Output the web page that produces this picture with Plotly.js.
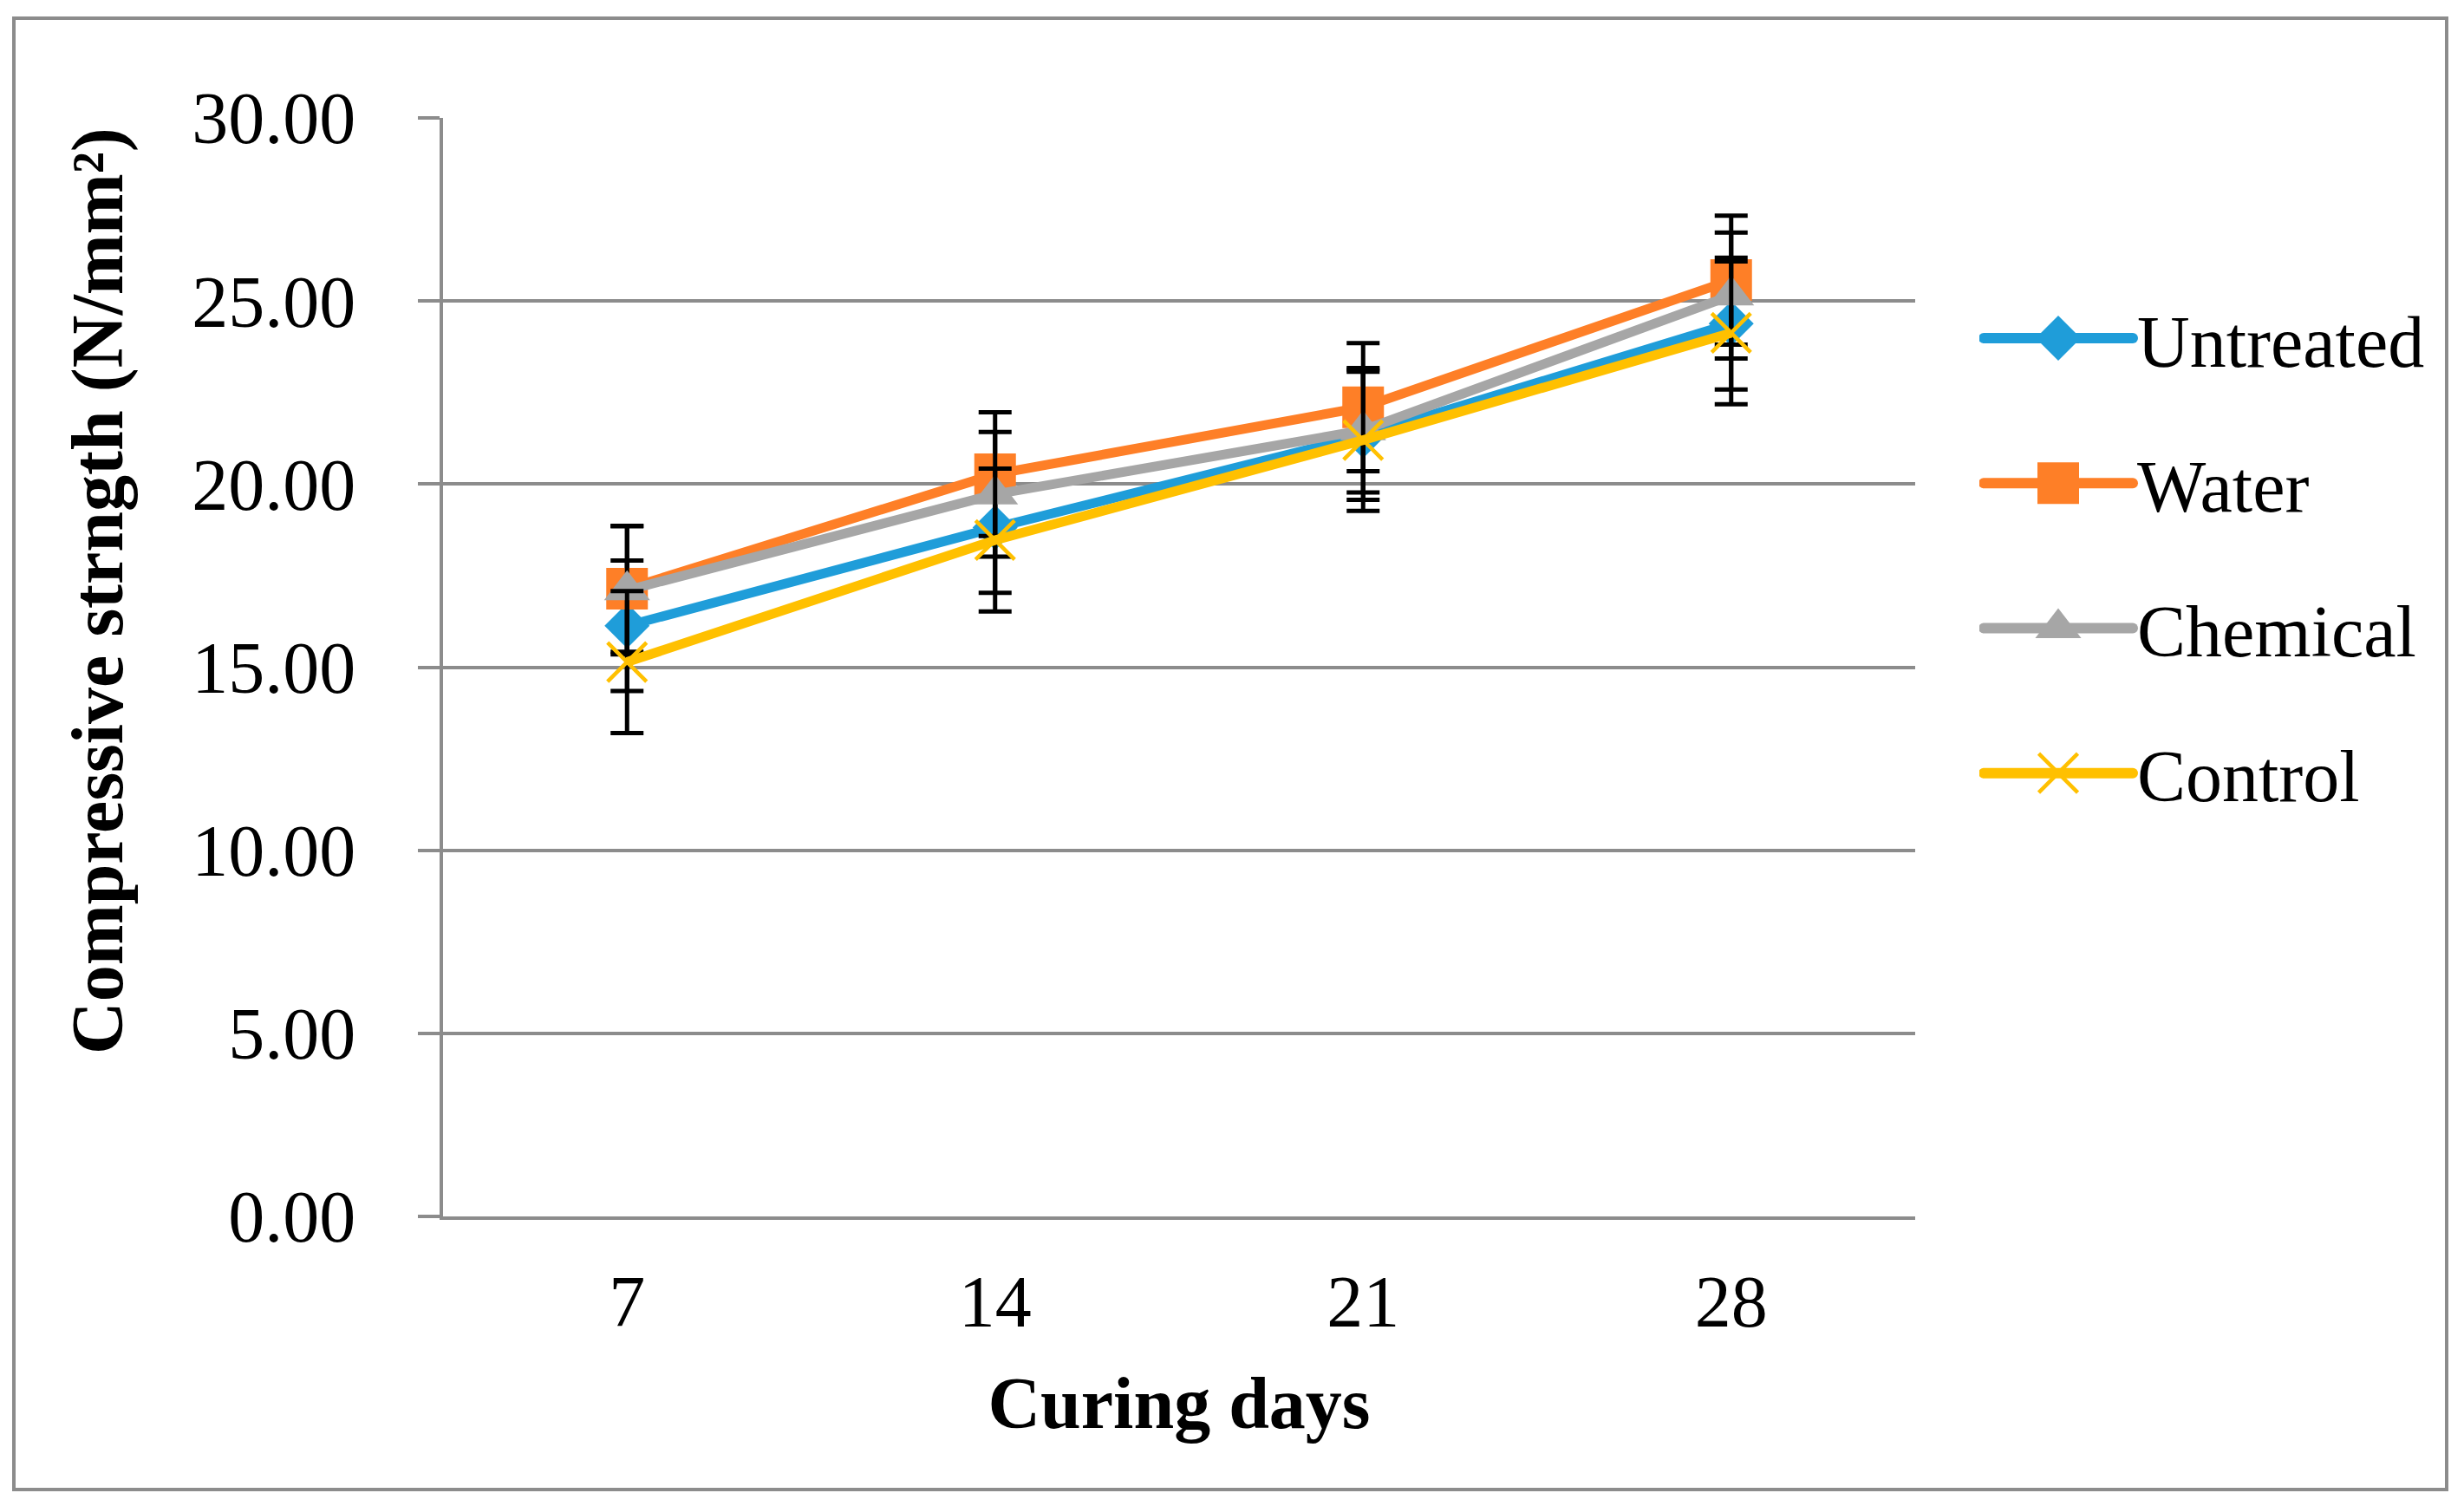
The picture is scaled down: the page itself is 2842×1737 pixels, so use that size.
<!DOCTYPE html>
<html>
<head>
<meta charset="utf-8">
<script src="https://cdn.plot.ly/plotly-3.0.1.min.js"></script>
<style>
  html, body { margin: 0; padding: 0; background: #ffffff; }
  #chart { width: 2842px; height: 1737px; }
</style>
</head>
<body>
<div id="chart"></div>
<script>
// ---- data ----
var curingDays = ['7', '14', '21', '28'];

var untreated    = [16.13, 18.81, 21.32, 24.38];
var untreatedErr = [1.78, 1.78, 1.75, 1.80];

var water    = [17.14, 20.27, 22.10, 25.57];
var waterErr = [1.72, 1.69, 1.75, 1.76];

var chemical    = [17.10, 19.72, 21.47, 25.15];
var chemicalErr = [1.75, 1.70, 1.70, 1.72];

var control    = [15.14, 18.47, 21.20, 24.13];
var controlErr = [1.94, 1.95, 1.93, 1.95];

var seriesNames = ['Untreated', 'Water', 'Chemical', 'Control'];
var yTickVals = [0, 5, 10, 15, 20, 25, 30];

// ---- styling ----
var FONT = '"Liberation Serif", "Times New Roman", Times, serif';
var GRID = '#8c8c8c';
var W = 2842, H = 1737;
var L = 511, R = 2209, T = 136, B = 1403;
var pw = R - L, ph = B - T;
function px(x) { return (x - L) / pw; }
function py(y) { return (B - y) / ph; }

function errSpec(arr) {
  return { type: 'data', array: arr, visible: true, color: '#000000', thickness: 5, width: 19 };
}

var traces = [
  { name: seriesNames[0], x: curingDays, y: untreated, error_y: errSpec(untreatedErr),
    line: { color: '#1f9dd9', width: 11 },
    marker: { symbol: 'diamond', size: 40, color: '#1f9dd9' } },
  { name: seriesNames[1], x: curingDays, y: water, error_y: errSpec(waterErr),
    line: { color: '#fe7f27', width: 11 },
    marker: { symbol: 'square', size: 48, color: '#fe7f27' } },
  { name: seriesNames[2], x: curingDays, y: chemical, error_y: errSpec(chemicalErr),
    line: { color: '#a6a6a6', width: 11 },
    marker: { symbol: 'triangle-up', size: 46, color: '#a6a6a6' } },
  { name: seriesNames[3], x: curingDays, y: control, error_y: errSpec(controlErr),
    line: { color: '#ffc000', width: 11 },
    marker: { symbol: 'x-thin', size: 45, color: '#ffc000', line: { color: '#ffc000', width: 4.5 } } }
].map(function (t, i) {
  t.type = 'scatter';
  t.mode = 'lines+markers';
  t.legendgroup = 'g' + i;
  return t;
});

var layout = {
  width: W, height: H,
  paper_bgcolor: '#ffffff', plot_bgcolor: '#ffffff',
  margin: { l: L, r: W - R, t: T, b: H - B, pad: 0 },
  font: { family: FONT, color: '#000000', size: 84 },
  showlegend: true,
  xaxis: {
    type: 'category',
    range: [-0.5, 3.5],
    showgrid: false, zeroline: false,
    showline: true, linecolor: GRID, linewidth: 4,
    ticks: '', ticklabelstandoff: 22,
    tickfont: { family: FONT, size: 84, color: '#000000' },
    title: { text: '<b>Curing days</b>', font: { family: FONT, size: 84, color: '#000000' }, standoff: 42 },
    fixedrange: true
  },
  yaxis: {
    range: [0, 30],
    tickvals: yTickVals,
    tickformat: '.2f',
    showgrid: true, gridcolor: GRID, gridwidth: 4,
    zeroline: false,
    showline: true, linecolor: GRID, linewidth: 4,
    ticks: 'outside', ticklen: 25, tickwidth: 4, tickcolor: GRID,
    ticklabelstandoff: 55,
    tickfont: { family: FONT, size: 84, color: '#000000' },
    fixedrange: true
  },
  legend: {
    x: px(2283), xanchor: 'left',
    y: py(329), yanchor: 'top',
    font: { family: FONT, size: 84, color: '#000000' },
    bgcolor: 'rgba(0,0,0,0)', borderwidth: 0,
    tracegroupgap: 55,
    itemwidth: 172,
    itemclick: false, itemdoubleclick: false
  },
  annotations: [{
    text: '<b>Compressive strngth (N/mm²)</b>',
    xref: 'paper', yref: 'paper',
    x: px(113), y: py(682),
    xanchor: 'center', yanchor: 'middle',
    textangle: -90, showarrow: false,
    font: { family: FONT, size: 84, color: '#000000' }
  }],
  shapes: [{
    type: 'rect', xref: 'paper', yref: 'paper', layer: 'below',
    x0: px(16), x1: px(2822), y0: py(1718), y1: py(21),
    line: { color: GRID, width: 4 }, fillcolor: 'rgba(0,0,0,0)'
  }]
};

Plotly.newPlot('chart', traces, layout, { staticPlot: true, displayModeBar: false }).then(function (gd) {
  // Legend keys in the reference are long lines with full-size markers:
  // restyle the library-drawn legend symbols accordingly.
  var LEN = 172;
  var mainTraces = gd.querySelectorAll('.scatterlayer .trace');
  gd.querySelectorAll('.legend .traces').forEach(function (tr, i) {
    tr.querySelectorAll('.legendlines path').forEach(function (p) {
      p.setAttribute('d', 'M5,0h' + LEN);
      p.style.strokeWidth = '12px';
      p.style.strokeLinecap = 'round';
    });
    var mainPt = mainTraces[i] ? mainTraces[i].querySelector('.points path.point') : null;
    tr.querySelectorAll('.legendpoints path.scatterpts').forEach(function (p) {
      var s = 1;
      if (mainPt) {
        var a = mainPt.getBBox(), b = p.getBBox();
        if (b.width > 0) s = a.width / b.width;
        var sw = parseFloat(window.getComputedStyle(mainPt).strokeWidth) || 0;
        if (sw > 0) p.style.strokeWidth = (sw / s) + 'px';
      }
      p.setAttribute('transform', 'translate(' + (5 + LEN / 2) + ',0) scale(' + s + ')');
    });
  });
});
</script>
</body>
</html>
